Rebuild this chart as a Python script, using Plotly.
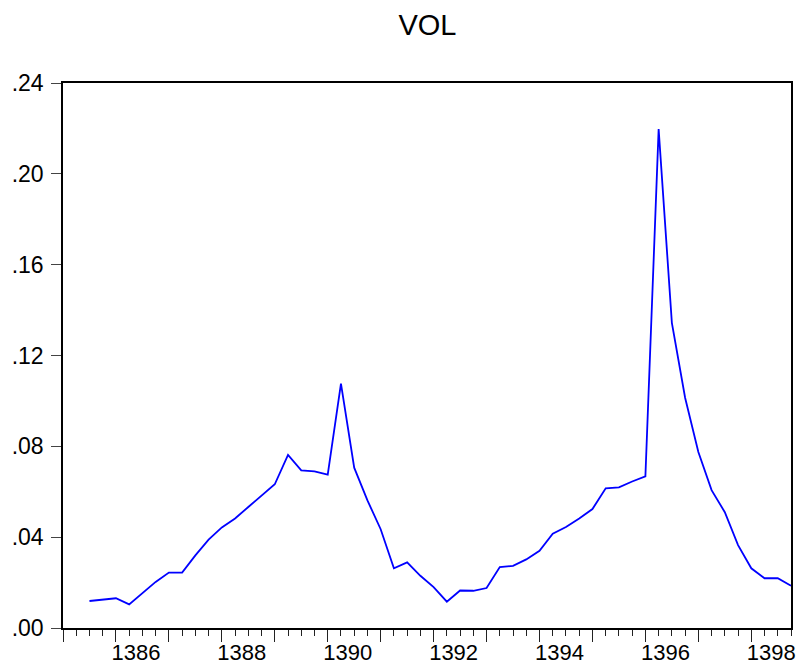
import plotly.graph_objects as go

# Quarterly data 1385Q3 .. 1398Q4
start_year = 1385
start_quarter = 3
vol = [
    0.0119, 0.0126, 0.0131, 0.0104, 0.0154, 0.0203, 0.0244, 0.0244,
    0.0320, 0.0389, 0.0443, 0.0482, 0.0533, 0.0584, 0.0633, 0.0762,
    0.0694, 0.0690, 0.0675, 0.1076, 0.0706, 0.0562, 0.0435, 0.0263,
    0.0289, 0.0230, 0.0180, 0.0116, 0.0165, 0.0164, 0.0176, 0.0268,
    0.0274, 0.0302, 0.0340, 0.0415, 0.0445, 0.0482, 0.0524, 0.0615,
    0.0619, 0.0645, 0.0668, 0.2197, 0.1344, 0.1014, 0.0775, 0.0607,
    0.0510, 0.0365, 0.0263, 0.0219, 0.0219, 0.0186,
]
x_vals = [start_year + (start_quarter - 1 + k) / 4 for k in range(len(vol))]

year_ticks = list(range(1385, 1399))
year_labels = [str(y) if y % 2 == 0 and y > 1385 else "" for y in year_ticks]
y_ticks = [0.0, 0.04, 0.08, 0.12, 0.16, 0.20, 0.24]
y_labels = [".00", ".04", ".08", ".12", ".16", ".20", ".24"]

font_family = "Arial, Liberation Sans, sans-serif"

fig = go.Figure()
fig.add_trace(go.Scatter(
    x=x_vals, y=vol, mode="lines",
    line=dict(color="#0000FF", width=1.8),
    showlegend=False, hoverinfo="skip",
))

fig.update_layout(
    width=799, height=665,
    margin=dict(l=63, r=8, t=83, b=37),
    paper_bgcolor="white", plot_bgcolor="white",
    title=dict(text="VOL", x=0.535, xanchor="center", y=1 - 25 / 665, yanchor="middle",
               font=dict(family=font_family, size=29, color="black")),
    font=dict(family=font_family, color="black"),
)

fig.update_xaxes(
    range=[1385, 1398.75],
    tickmode="array", tickvals=year_ticks, ticktext=year_labels,
    ticks="outside", ticklen=12, tickwidth=1.3, tickcolor="#222",
    ticklabelshift=20, ticklabelstandoff=-8,
    minor=dict(dtick=0.25, tick0=1385, ticks="outside", ticklen=6, tickwidth=1.2, tickcolor="#222", showgrid=False),
    tickfont=dict(family=font_family, size=22, color="black"),
    showline=True, linecolor="black", linewidth=1.5, mirror=True,
    showgrid=False, zeroline=False, automargin=False,
)
fig.update_yaxes(
    range=[0, 0.24],
    tickmode="array", tickvals=y_ticks, ticktext=y_labels,
    ticks="outside", ticklen=10, tickwidth=1.3, tickcolor="#444",
    ticklabelstandoff=3,
    tickfont=dict(family=font_family, size=23, color="black"),
    showline=True, linecolor="black", linewidth=1.5, mirror=True,
    showgrid=False, zeroline=False, automargin=False,
)

fig.write_html(
    "out.html",
    config={"displayModeBar": False},
    post_script="document.body.style.margin='0';document.body.style.overflow='hidden';",
)
